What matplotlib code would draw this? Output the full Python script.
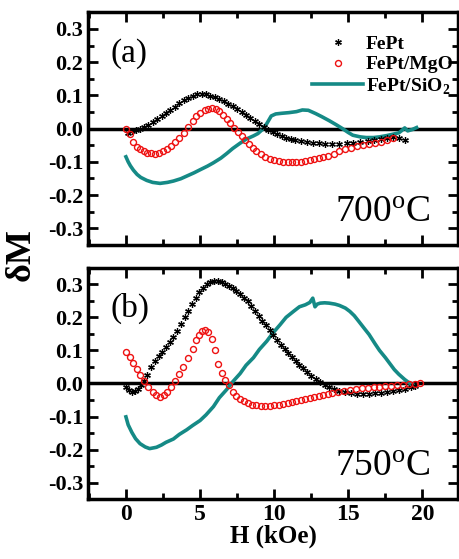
import numpy as np
import matplotlib
matplotlib.use('Agg')
from matplotlib import pyplot as plt
from matplotlib.ticker import MultipleLocator

plt.rcParams['font.family'] = ['Liberation Serif', 'DejaVu Serif']
plt.rcParams['mathtext.fontset'] = 'custom'
plt.rcParams['mathtext.rm'] = 'Liberation Serif'
plt.rcParams['mathtext.bf'] = 'Liberation Serif:bold'

teal = '#158a86'

# ---- panel (a) 700 C ----
a_fept_h = [0.15, 0.4, 0.7, 0.95, 1.2, 1.5, 1.8, 2.1, 2.4, 2.7, 3.0, 3.3, 3.6, 3.9, 4.2,
            4.5, 4.8, 5.1, 5.4, 5.7, 6.0, 6.3, 6.6, 6.9, 7.2, 7.5, 7.8, 8.1, 8.4, 8.7,
            9.0, 9.3, 9.6, 9.9, 10.2, 10.5, 10.8, 11.1, 11.4, 11.8, 12.2, 12.6, 13.0,
            13.4, 13.9, 14.4, 14.9, 15.3, 15.8, 16.3, 16.7, 17.2, 17.6, 18.0, 18.4, 18.8]
a_fept_m = [-0.012, -0.008, -0.004, -0.001, 0.004, 0.012, 0.02, 0.028, 0.037, 0.046, 0.056,
            0.066, 0.076, 0.085, 0.093, 0.099, 0.104, 0.105, 0.103, 0.099, 0.094, 0.088,
            0.082, 0.075, 0.067, 0.058, 0.049, 0.04, 0.031, 0.022, 0.013, 0.005, -0.003,
            -0.01, -0.016, -0.022, -0.027, -0.031, -0.034, -0.038, -0.041, -0.043, -0.044,
            -0.045, -0.045, -0.045, -0.043, -0.042, -0.04, -0.037, -0.034, -0.031, -0.027,
            -0.024, -0.027, -0.034]

a_mgo_h = [0.0, 0.27, 0.5, 0.75, 0.95, 1.2, 1.45, 1.7, 1.95, 2.2, 2.5, 2.8, 3.05, 3.3, 3.6,
           3.9, 4.2, 4.5, 4.75, 5.0, 5.3, 5.55, 5.8, 6.05, 6.3, 6.55, 6.8, 7.05, 7.3, 7.55,
           7.8, 8.05, 8.3, 8.55, 8.8, 9.1, 9.4, 9.7, 10.0, 10.3, 10.6, 10.9, 11.2, 11.5, 11.8,
           12.1, 12.4, 12.7, 13.0, 13.3, 13.6, 14.0, 14.4, 14.8, 15.2, 15.6, 16.0, 16.4,
           16.8, 17.2, 17.6, 18.0]
a_mgo_m = [0.0, -0.017, -0.04, -0.055, -0.063, -0.069, -0.073, -0.075, -0.076, -0.074, -0.068,
           -0.06, -0.051, -0.04, -0.027, -0.012, 0.006, 0.024, 0.038, 0.048, 0.056, 0.06, 0.061,
           0.058, 0.052, 0.042, 0.03, 0.016, 0.003, -0.01, -0.022, -0.035, -0.047, -0.057,
           -0.067, -0.077, -0.085, -0.091, -0.096, -0.099, -0.101, -0.102, -0.102, -0.101,
           -0.1, -0.098, -0.096, -0.093, -0.09, -0.086, -0.082, -0.076, -0.069, -0.063,
           -0.057, -0.052, -0.048, -0.045, -0.042, -0.039, -0.035, -0.029]

a_sio_h = [0.0, 0.15, 0.3, 0.5, 0.75, 1.0, 1.4, 1.8, 2.3, 2.8, 3.2, 3.7, 4.1, 4.6, 5.0, 5.5,
           5.9, 6.4, 6.8, 7.2, 7.7, 8.1, 8.6, 8.9, 9.2, 9.5, 9.8, 10.1, 10.5, 11.0, 11.5,
           11.9, 12.3, 12.8, 13.2, 13.7, 14.2, 14.6, 15.0, 15.3, 15.8, 16.2, 16.7, 17.1,
           17.6, 18.0, 18.4, 18.6, 18.8, 19.0, 19.3, 19.6]
a_sio_m = [-0.085, -0.1, -0.112, -0.125, -0.138, -0.147, -0.156, -0.162, -0.165, -0.162,
           -0.158, -0.151, -0.143, -0.133, -0.124, -0.113, -0.103, -0.089, -0.075, -0.06,
           -0.044, -0.032, -0.022, -0.015, -0.003, 0.015, 0.038, 0.044, 0.046, 0.048, 0.051,
           0.056, 0.055, 0.045, 0.036, 0.024, 0.011, 0.0, -0.012, -0.02, -0.025, -0.027,
           -0.027, -0.025, -0.021, -0.017, -0.013, -0.006, 0.002, -0.007, -0.003, 0.003]

# ---- panel (b) 750 C ----
b_fept_h = [0.0, 0.2, 0.4, 0.6, 0.8, 1.0, 1.2, 1.45, 1.7, 1.95, 2.2, 2.45, 2.7, 2.95, 3.2,
            3.45, 3.7, 3.95, 4.2, 4.45, 4.7, 4.95, 5.2, 5.45, 5.7, 5.95, 6.2, 6.45, 6.7,
            6.95, 7.2, 7.45, 7.7, 7.95, 8.2, 8.45, 8.7, 8.95, 9.2, 9.45, 9.7, 9.95, 10.2,
            10.45, 10.7, 10.95, 11.2, 11.45, 11.7, 11.95, 12.2, 12.5, 12.8, 13.1, 13.4,
            13.7, 14.0, 14.4, 14.8, 15.2, 15.6, 16.0, 16.4, 16.8, 17.2, 17.6, 18.0, 18.4,
            18.8, 19.2, 19.5]
b_fept_m = [-0.01, -0.02, -0.025, -0.023, -0.016, -0.006, 0.006, 0.027, 0.05, 0.068, 0.082,
            0.095, 0.11, 0.125, 0.142, 0.16, 0.18, 0.2, 0.22, 0.24, 0.26, 0.277, 0.29, 0.3,
            0.307, 0.311, 0.31, 0.306, 0.301, 0.296, 0.289, 0.281, 0.271, 0.259, 0.248,
            0.234, 0.22, 0.205, 0.19, 0.176, 0.162, 0.146, 0.131, 0.117, 0.104, 0.092, 0.08,
            0.068, 0.057, 0.046, 0.035, 0.024, 0.013, 0.003, -0.004, -0.01, -0.016, -0.022,
            -0.027, -0.03, -0.032, -0.032, -0.031, -0.03, -0.028, -0.026, -0.024, -0.021,
            -0.017, -0.012, -0.008]

b_mgo_h = [0.0, 0.25, 0.5, 0.72, 0.95, 1.2, 1.5, 1.8, 2.05, 2.3, 2.55, 2.8, 3.05, 3.3, 3.55,
           3.85, 4.2, 4.5, 4.75, 4.95, 5.15, 5.35, 5.55, 5.8, 6.0, 6.2, 6.45, 6.7, 6.95, 7.2,
           7.45, 7.7, 7.95, 8.2, 8.5, 8.8, 9.1, 9.4, 9.7, 10.0, 10.3, 10.6, 10.9, 11.2, 11.5,
           11.8, 12.1, 12.4, 12.7, 13.0, 13.3, 13.6, 13.9, 14.3, 14.7, 15.1, 15.5, 15.9, 16.3,
           16.7, 17.1, 17.5, 17.9, 18.3, 18.7, 19.1, 19.5, 19.8]
b_mgo_m = [0.096, 0.081, 0.062, 0.045, 0.026, 0.006, -0.012, -0.026, -0.036, -0.04, -0.036,
           -0.025, -0.01, 0.008, 0.028, 0.05, 0.077, 0.104, 0.13, 0.148, 0.16, 0.163, 0.157,
           0.135, 0.102, 0.058, 0.032, 0.012, -0.005, -0.025, -0.037, -0.046, -0.053, -0.059,
           -0.064, -0.066, -0.068, -0.069, -0.068, -0.066, -0.064, -0.062, -0.06, -0.057,
           -0.054, -0.051, -0.048, -0.044, -0.04, -0.037, -0.034, -0.031, -0.028, -0.025,
           -0.022, -0.019, -0.017, -0.015, -0.013, -0.011, -0.01, -0.009, -0.008, -0.006,
           -0.005, -0.003, -0.002, 0.0]

b_sio_h = [0.0, 0.15, 0.4, 0.65, 0.95, 1.3, 1.6, 2.06, 2.4, 2.7, 3.2, 3.6, 4.1, 4.5, 5.0,
           5.4, 5.9, 6.3, 6.8, 7.2, 7.7, 8.1, 8.6, 9.0, 9.5, 9.9, 10.4, 10.8, 11.3, 11.7,
           12.1, 12.4, 12.6, 12.75, 12.9, 13.1, 13.4, 13.7, 14.1, 14.4, 14.8, 15.1, 15.4,
           15.7, 16.1, 16.4, 16.8, 17.1, 17.5, 17.8, 18.1, 18.4, 18.8, 19.1, 19.4]
b_sio_m = [-0.101, -0.125, -0.148, -0.167, -0.182, -0.192, -0.197, -0.193, -0.186, -0.178,
           -0.168, -0.154, -0.14, -0.127, -0.112, -0.095, -0.07, -0.043, -0.018, 0.005,
           0.03, 0.055, 0.078, 0.103, 0.128, 0.152, 0.178, 0.2, 0.218, 0.232, 0.238, 0.245,
           0.258, 0.232, 0.24, 0.243, 0.244, 0.243, 0.24, 0.236, 0.228, 0.218, 0.205, 0.188,
           0.165, 0.148, 0.12, 0.1, 0.078, 0.06, 0.042, 0.028, 0.012, 0.002, -0.005]

fig = plt.figure(figsize=(4.59, 5.59), dpi=100)
ax1 = fig.add_axes([0.192, 0.562, 0.806, 0.416])
ax2 = fig.add_axes([0.192, 0.107, 0.806, 0.414])

panels = [(ax1, a_fept_h, a_fept_m, a_mgo_h, a_mgo_m, a_sio_h, a_sio_m, '(a)', '700'),
          (ax2, b_fept_h, b_fept_m, b_mgo_h, b_mgo_m, b_sio_h, b_sio_m, '(b)', '750')]

for ax, fh, fm, mh, mm, sh, sm, tag, temp in panels:
    ax.axhline(0, color='black', lw=2.5, zorder=1)
    ax.plot(fh, fm, ls='none', marker=(6, 2, 0), ms=4.8, mew=0.9, color='black',
            label='FePt', zorder=3)
    ax.plot(mh, mm, ls='none', marker='o', ms=4.3, mfc='none', mec='#ee1111', mew=1.0,
            label='FePt/MgO', zorder=3)
    ax.plot(sh, sm, color=teal, lw=2.6, label=r'FePt/SiO$_\mathbf{2}$', zorder=2)

    ax.set_xlim(-2.55, 22.4)
    ax.set_ylim(-0.35, 0.35)
    ax.xaxis.set_major_locator(MultipleLocator(5))
    ax.xaxis.set_minor_locator(MultipleLocator(2.5))
    ax.yaxis.set_major_locator(MultipleLocator(0.1))
    ax.yaxis.set_minor_locator(MultipleLocator(0.05))
    ax.tick_params(which='both', direction='in', top=True, right=True, width=2)
    ax.tick_params(which='major', length=7)
    ax.tick_params(which='minor', length=4)
    for sp in ax.spines.values():
        sp.set_linewidth(2.5)
    ax.set_yticks([-0.3, -0.2, -0.1, 0.0, 0.1, 0.2, 0.3])
    ax.set_yticklabels(['-0.3', '-0.2', '-0.1', '0.0', '0.1', '0.2', '0.3'],
                       fontsize=16, fontweight='bold')
    ax.text(0.06, 0.89, tag, transform=ax.transAxes, fontsize=24, va='top', ha='left')
    ax.text(0.925, 0.065, r'$\mathrm{' + temp + '^{o}C}$', transform=ax.transAxes,
            fontsize=27, va='bottom', ha='right')

ax1.tick_params(axis='x', labelbottom=False)
for lab in ax2.get_xticklabels():
    lab.set_fontsize(17)
    lab.set_fontweight('bold')
ax2.set_xlabel('H (kOe)', fontsize=18, fontweight='bold', labelpad=0)

leg = ax1.legend(loc='upper right', bbox_to_anchor=(1.025, 0.96), frameon=False,
                 handlelength=2.6, handletextpad=0.15, labelspacing=0.15,
                 borderaxespad=0.3, prop={'weight': 'bold', 'size': 14})

fig.text(0.045, 0.545, 'δM', rotation=90, fontsize=26, fontweight='bold',
         ha='center', va='center')

plt.savefig('out.png', dpi=100)
